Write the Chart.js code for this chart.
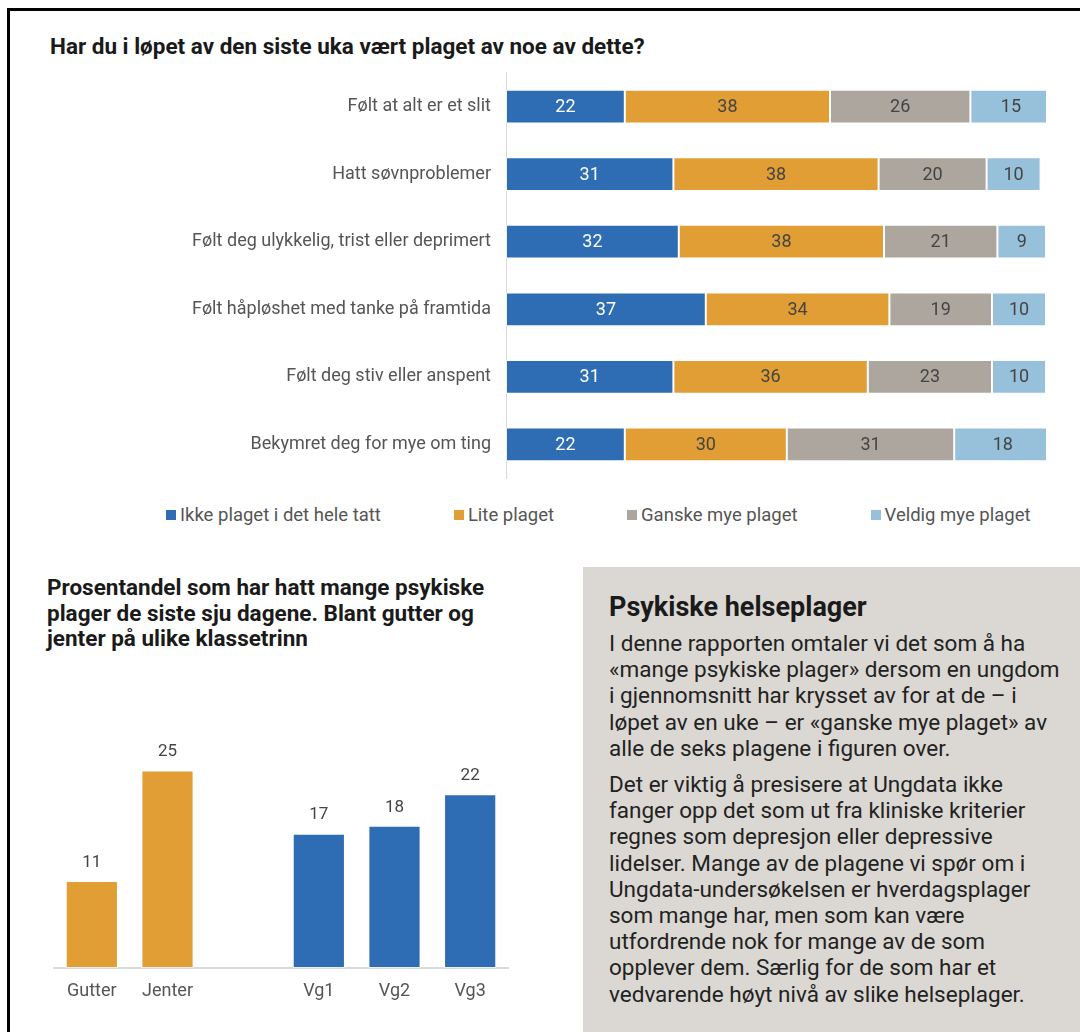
<!DOCTYPE html>
<html lang="no">
<head>
<meta charset="utf-8">
<title>Psykiske helseplager</title>
<script src="https://cdn.jsdelivr.net/npm/chart.js@4"></script>
<style>
  html, body { margin: 0; padding: 0; }
  body {
    width: 1080px; height: 1032px; overflow: hidden; position: relative;
    background: #fff; font-family: Roboto, "Noto Sans", sans-serif; color: #1a1a1a;
  }
  .frame {
    position: absolute; left: 7px; top: 8px; right: -10px; bottom: -10px;
    border-left: 3px solid #000; border-top: 3px solid #000;
  }
  .title1 {
    position: absolute; left: 50px; top: 32px; line-height: 28px;
    font-size: 22.5px; font-weight: 700; white-space: nowrap;
  }
  #topWrap { position: absolute; left: 0; top: 47px; width: 1080px; height: 457px; }
  .legend {
    position: absolute; top: 504px; left: 166px; display: flex; gap: 73px;
    font-size: 18.5px; color: #555; white-space: nowrap;
  }
  .legend span.item { display: flex; align-items: center; }
  .legend i { display: inline-block; width: 10px; height: 10px; margin-right: 4px; }
  .title2 {
    position: absolute; left: 47px; top: 575px;
    font-size: 22.5px; font-weight: 700; line-height: 25.5px; white-space: nowrap;
  }
  #bottomWrap { position: absolute; left: 0; top: 720px; width: 540px; height: 300px; }
  .box {
    position: absolute; left: 583px; top: 567px; right: -10px; bottom: -10px;
    background: #dbd8d3; padding: 24px 0 0 26px; box-sizing: border-box;
  }
  .box h3 { margin: 0 0 7px 0; font-size: 27px; font-weight: 700; line-height: 32px; }
  .box p { margin: 0 0 10px 0; font-size: 22.5px; line-height: 26.2px; color: #222; white-space: nowrap; }
</style>
</head>
<body>
<div class="frame"></div>
<div class="title1">Har du i løpet av den siste uka vært plaget av noe av dette?</div>
<div id="topWrap"><canvas id="stackChart"></canvas></div>
<div class="legend" id="legend"></div>

<div class="title2">Prosentandel som har hatt mange psykiske<br>plager de siste sju dagene. Blant gutter og<br>jenter på ulike klassetrinn</div>
<div id="bottomWrap"><canvas id="groupChart"></canvas></div>

<div class="box">
  <h3>Psykiske helseplager</h3>
  <p>I denne rapporten omtaler vi det som å ha<br>«mange psykiske plager» dersom en ungdom<br>i gjennomsnitt har krysset av for at de – i<br>løpet av en uke – er «ganske mye plaget» av<br>alle de seks plagene i figuren over.</p>
  <p>Det er viktig å presisere at Ungdata ikke<br>fanger opp det som ut fra kliniske kriterier<br>regnes som depresjon eller depressive<br>lidelser. Mange av de plagene vi spør om i<br>Ungdata-undersøkelsen er hverdagsplager<br>som mange har, men som kan være<br>utfordrende nok for mange av de som<br>opplever dem. Særlig for de som har et<br>vedvarende høyt nivå av slike helseplager.</p>
</div>

<script>
// plager (rader i den stablede figuren)
const plager = [
  'Følt at alt er et slit',
  'Hatt søvnproblemer',
  'Følt deg ulykkelig, trist eller deprimert',
  'Følt håpløshet med tanke på framtida',
  'Følt deg stiv eller anspent',
  'Bekymret deg for mye om ting'
];
const svarNavn = ['Ikke plaget i det hele tatt', 'Lite plaget', 'Ganske mye plaget', 'Veldig mye plaget'];
const ikkePlaget = [22, 31, 32, 37, 31, 22];
const litePlaget = [38, 38, 38, 34, 36, 30];
const ganskeMye  = [26, 20, 21, 19, 23, 31];
const veldigMye  = [15, 10, 9, 10, 10, 18];
const svarFarger = ['#2e6db4', '#e09e35', '#ada69f', '#97c0db'];
const tekstFarger = ['#ffffff', '#444444', '#444444', '#444444'];

// andel med mange psykiske plager
const grupper = ['Gutter', 'Jenter', '', 'Vg1', 'Vg2', 'Vg3'];
const andel = [11, 25, null, 17, 18, 22];
const gruppeFarger = ['#e09e35', '#e09e35', '#e09e35', '#2e6db4', '#2e6db4', '#2e6db4'];

const FONT = 'Roboto, "Noto Sans", sans-serif';

// skriver verdien midt i hvert segment
const segmentLabels = {
  id: 'segmentLabels',
  afterDatasetsDraw(chart) {
    const ctx = chart.ctx;
    ctx.save();
    ctx.font = '18px ' + FONT;
    ctx.textAlign = 'center';
    ctx.textBaseline = 'middle';
    chart.data.datasets.forEach((ds, i) => {
      chart.getDatasetMeta(i).data.forEach((bar, j) => {
        const p = bar.getCenterPoint();
        ctx.fillStyle = tekstFarger[i];
        ctx.fillText(ds.data[j], p.x, p.y + 1);
      });
    });
    ctx.restore();
  }
};

// skriver verdien over hver søyle
const topLabels = {
  id: 'topLabels',
  afterDatasetsDraw(chart) {
    const ctx = chart.ctx;
    ctx.save();
    ctx.font = '17px ' + FONT;
    ctx.fillStyle = '#444';
    ctx.textAlign = 'center';
    ctx.textBaseline = 'bottom';
    const ds = chart.data.datasets[0];
    chart.getDatasetMeta(0).data.forEach((bar, j) => {
      if (ds.data[j] == null) return;
      ctx.fillText(ds.data[j], bar.x, bar.y - 10);
    });
    ctx.restore();
  }
};

const serier = [ikkePlaget, litePlaget, ganskeMye, veldigMye];

new Chart(document.getElementById('stackChart'), {
  type: 'bar',
  data: {
    labels: plager,
    datasets: serier.map((d, i) => ({
      label: svarNavn[i],
      data: d,
      backgroundColor: svarFarger[i],
      borderColor: 'rgba(255,255,255,0.55)',
      borderWidth: 1,
      borderSkipped: false,
      barPercentage: 0.5,
      categoryPercentage: 1
    }))
  },
  options: {
    indexAxis: 'y',
    responsive: true,
    maintainAspectRatio: false,
    animation: false,
    layout: { padding: { top: 0, right: 34, left: 0, bottom: 0 } },
    plugins: { legend: { display: false }, tooltip: { enabled: false } },
    scales: {
      x: { stacked: true, min: 0, max: 100, display: false },
      y: {
        stacked: true,
        grid: { display: false, drawTicks: false },
        border: { display: true, color: '#d9d9d9', width: 1 },
        ticks: { padding: 15, color: '#555', font: { family: FONT, size: 18 } },
        afterFit(scale) { scale.width = 506; }
      }
    }
  },
  plugins: [segmentLabels]
});

// forklaring bygget fra seriene
document.getElementById('legend').innerHTML = svarNavn.map((n, i) =>
  '<span class="item"><i style="background:' + svarFarger[i] + '"></i>' + n + '</span>'
).join('');

new Chart(document.getElementById('groupChart'), {
  type: 'bar',
  data: {
    labels: grupper,
    datasets: [{
      data: andel,
      backgroundColor: gruppeFarger,
      borderColor: 'rgba(255,255,255,0.55)',
      borderWidth: 1,
      borderSkipped: false,
      barPercentage: 0.69,
      categoryPercentage: 1
    }]
  },
  options: {
    responsive: true,
    maintainAspectRatio: false,
    animation: false,
    layout: { padding: { top: 11, right: 32, left: 54, bottom: 0 } },
    plugins: { legend: { display: false }, tooltip: { enabled: false } },
    scales: {
      y: { min: 0, max: 30, display: false },
      x: {
        grid: { display: false, drawTicks: false },
        border: { display: true, color: '#d9d9d9', width: 2 },
        ticks: { padding: 13, color: '#555', font: { family: FONT, size: 18 } },
        afterFit(scale) { scale.height = 52; }
      }
    }
  },
  plugins: [topLabels]
});
</script>
</body>
</html>
